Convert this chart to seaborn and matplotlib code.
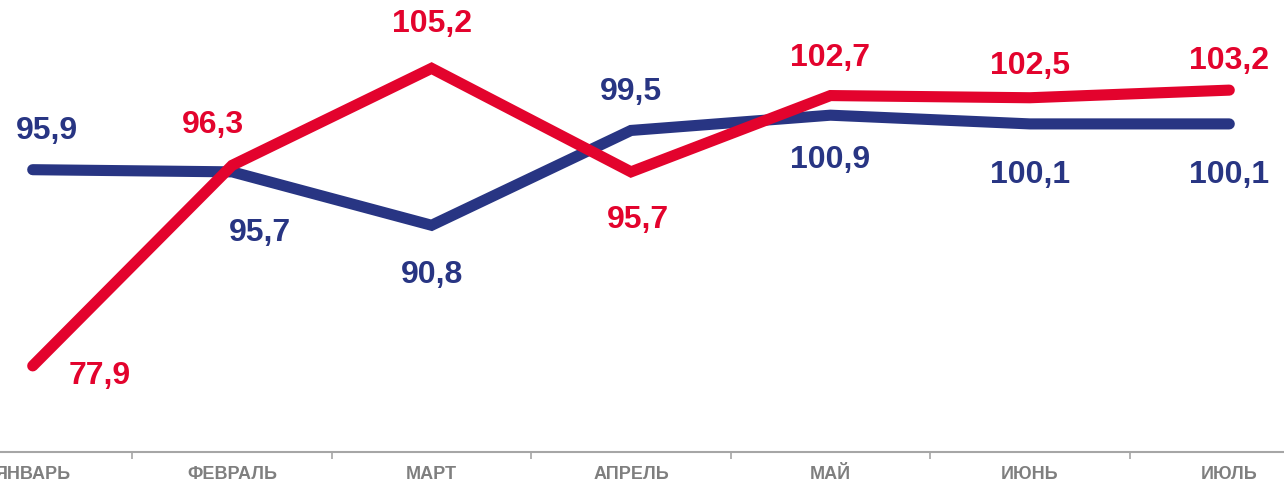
import matplotlib.pyplot as plt
import seaborn as sns
import pandas as pd
from matplotlib.ticker import FixedLocator

sns.set_theme(style="white")
plt.rcParams["font.family"] = ["Liberation Sans", "DejaVu Sans"]

months = ["ЯНВАРЬ", "ФЕВРАЛЬ", "МАРТ", "АПРЕЛЬ", "МАЙ", "ИЮНЬ", "ИЮЛЬ"]
blue_vals = [95.9, 95.7, 90.8, 99.5, 100.9, 100.1, 100.1]
red_vals = [77.9, 96.3, 105.2, 95.7, 102.7, 102.5, 103.2]

# label offsets (points) for each data label
blue_off = [(10, 28), (20, -44), (0, -36), (0, 28), (0, -32), (0, -37), (0, -37)]
red_off = [(48, -7), (-14, 29), (0, 32), (5, -35), (0, 27), (0, 23), (0, 21)]

colors = {"blue": "#283583", "red": "#E3032D"}

df = pd.DataFrame({
    "x": list(range(len(months))) * 2,
    "value": blue_vals + red_vals,
    "series": ["blue"] * len(months) + ["red"] * len(months),
})

fig = plt.figure(figsize=(12.84, 4.84), dpi=100)
# category bands run off the edges of the picture
ax = fig.add_axes([-67 / 1284, 32 / 484, 1396 / 1284, 436 / 484])

sns.lineplot(data=df, x="x", y="value", hue="series", palette=colors,
             linewidth=8, sort=False, legend=False, ax=ax,
             solid_capstyle="round", solid_joinstyle="miter")

for vals, offs, key in [(blue_vals, blue_off, "blue"), (red_vals, red_off, "red")]:
    for i, (v, o) in enumerate(zip(vals, offs)):
        ax.annotate(f"{v:.1f}".replace(".", ","), (i, v), xytext=o,
                    textcoords="offset points", ha="center", va="center",
                    fontsize=23, fontweight="bold", color=colors[key])

ax.set_xlim(-0.5, 6.5)
ax.set_ylim(70, 110)
ax.set_xticks(range(len(months)))
ax.set_xticklabels(months, fontsize=13, fontweight="bold", color="#7f7f7f")
ax.xaxis.set_minor_locator(FixedLocator([i + 0.5 for i in range(len(months) - 1)]))
ax.tick_params(axis="x", which="major", length=0, pad=10)
ax.tick_params(axis="x", which="minor", bottom=True, length=5, width=1.2,
               color="#a6a6a6", direction="out")
ax.set_yticks([])
ax.set_xlabel("")
ax.set_ylabel("")
for s in ["top", "left", "right"]:
    ax.spines[s].set_visible(False)
ax.spines["bottom"].set_color("#a6a6a6")
ax.spines["bottom"].set_linewidth(1.5)
ax.patch.set_alpha(0)

fig.savefig("out.png", dpi=100)
